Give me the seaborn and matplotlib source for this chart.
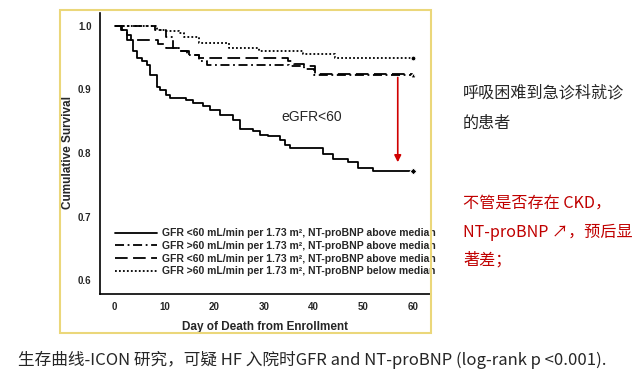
import numpy as np
import pandas as pd
import matplotlib.pyplot as plt
import matplotlib.patches as mpatches
import seaborn as sns

# ---------------- data ----------------
days_a = [0, 0.3, 1.3, 2.4, 3.2, 3.6, 4.4, 5.4, 6.4, 7.0, 8.4, 9.1, 10.4, 11.1, 14.4, 15.7,
          17.7, 19.1, 21.1, 23.8, 25.2, 27.8, 29.2, 30.8, 33.2, 34.2, 35.2, 41.9, 43.9,
          46.9, 48.9, 51.9, 60]
surv_a = [1.0, 1.0, 0.994, 0.986, 0.978, 0.960, 0.949, 0.944, 0.939, 0.923, 0.904, 0.899,
          0.891, 0.886, 0.883, 0.878, 0.873, 0.868, 0.860, 0.852, 0.838, 0.834, 0.828,
          0.826, 0.820, 0.813, 0.808, 0.798, 0.790, 0.785, 0.777, 0.772, 0.772]

days_b = [0, 8.0, 10.4, 11.8, 12.9, 14.5, 17.0, 18.5, 35.0, 38.0, 40.0, 60]
surv_b = [1.0, 0.994, 0.983, 0.965, 0.960, 0.954, 0.944, 0.939, 0.936, 0.932, 0.923, 0.921]

days_c = [0, 1.5, 2.4, 8.7, 10.4, 12.7, 15.0, 17.0, 19.0, 34.8, 36.0, 38.0, 40.2, 60]
surv_c = [1.0, 0.994, 0.978, 0.972, 0.965, 0.960, 0.954, 0.950, 0.949, 0.945, 0.940,
          0.936, 0.924, 0.923]

days_d = [0, 8.5, 10.4, 13.0, 14.0, 17.0, 23.0, 29.0, 37.8, 44.3, 60]
surv_d = [1.0, 0.994, 0.991, 0.988, 0.983, 0.973, 0.965, 0.961, 0.956, 0.950, 0.950]

labels = ["GFR <60 mL/min per 1.73 m², NT-proBNP above median",
          "GFR >60 mL/min per 1.73 m², NT-proBNP above median",
          "GFR <60 mL/min per 1.73 m², NT-proBNP above median",
          "GFR >60 mL/min per 1.73 m², NT-proBNP below median"]

x_ticks = [0, 10, 20, 30, 40, 50, 60]
y_ticks = [0.6, 0.7, 0.8, 0.9, 1.0]

# ---------------- style ----------------
sns.set_style("white")
plt.rcParams['font.family'] = ['Liberation Sans', 'Noto Sans CJK SC', 'DejaVu Sans']
cjk = ['Noto Sans CJK SC', 'DejaVu Sans']

fig = plt.figure(figsize=(6.4, 3.82), dpi=100)
ax = fig.add_axes([0.156, 0.230, 0.516, 0.736])

dashes = ["-", (0, (5, 2, 1, 2)), (0, (7, 3)), (0, (1, 1.2))]
series = [(days_a, surv_a), (days_b, surv_b), (days_c, surv_c), (days_d, surv_d)]
end_markers = ["D", "v", "^", "o"]

for (t, s), ls, lab, mk in zip(series, dashes, labels, end_markers):
    df = pd.DataFrame({"day": t, "surv": s})
    sns.lineplot(data=df, x="day", y="surv", ax=ax, color="black", linewidth=1.3,
                 drawstyle="steps-post", linestyle=ls, label=lab,
                 marker=mk, markevery=[len(t) - 1], markersize=3.5)

ax.set_xlim(-3, 63.4)
ax.set_ylim(0.578, 1.02)
ax.set_xticks(x_ticks)
ax.set_yticks(y_ticks)
ax.set_yticklabels([f"{v:.1f}" for v in y_ticks])
ax.tick_params(axis="both", labelsize=7, length=4, width=1, direction="out",
               color="black", pad=2)
for lbl in ax.get_xticklabels() + ax.get_yticklabels():
    lbl.set_fontweight("bold")

for side in ["top", "right"]:
    ax.spines[side].set_visible(False)
for side in ["left", "bottom"]:
    ax.spines[side].set_color("black")
    ax.spines[side].set_linewidth(1.2)

ax.set_xlabel("Day of Death from Enrollment", fontsize=8.5, fontweight="bold", labelpad=6)
ax.set_ylabel("Cumulative Survival", fontsize=8.5, fontweight="bold")
ax.yaxis.set_label_coords(-0.078, 0.505)

leg = ax.legend(loc="lower left", bbox_to_anchor=(0.03, 0.045), frameon=False,
                prop={"size": 7.5, "weight": "bold"}, handlelength=4.0,
                handletextpad=0.5, labelspacing=0.25, borderpad=0)
for line in leg.get_lines():
    line.set_marker("")

# red arrow + annotation
ax.annotate("", xy=(56.9, 0.781), xytext=(56.9, 0.923),
            arrowprops=dict(arrowstyle="-|>", color="#D00000", lw=1.2,
                            mutation_scale=10))
ax.text(39.6, 0.857, "eGFR<60", fontsize=10, ha="center", va="center")

# yellow frame around the chart picture
fig.patches.append(mpatches.Rectangle((60 / 640, 1 - 333 / 382), 371 / 640, 323 / 382,
                                      transform=fig.transFigure, fill=False,
                                      edgecolor="#EBD77A", linewidth=1.5))

# side notes
fig.text(463 / 640, 1 - 93 / 382, "呼吸困难到急诊科就诊", fontsize=11.6, va="center",
         family=cjk)
fig.text(463 / 640, 1 - 123 / 382, "的患者", fontsize=11.6, va="center", family=cjk)
red = "#C00000"
fig.text(463 / 640, 1 - 203 / 382, "不管是否存在 CKD，", fontsize=11.6, va="center",
         color=red, family=cjk)
fig.text(463 / 640, 1 - 232 / 382, "NT-proBNP ↗，预后显", fontsize=11.6, va="center",
         color=red, family=cjk)
fig.text(463 / 640, 1 - 260 / 382, "著差；", fontsize=11.6, va="center",
         color=red, family=cjk)

# caption
fig.text(18 / 640, 1 - 360 / 382,
         "生存曲线-ICON 研究，可疑 HF 入院时GFR and NT-proBNP (log-rank p <0.001).",
         fontsize=12, va="center", family=cjk)

fig.savefig("out.png", dpi=100)
